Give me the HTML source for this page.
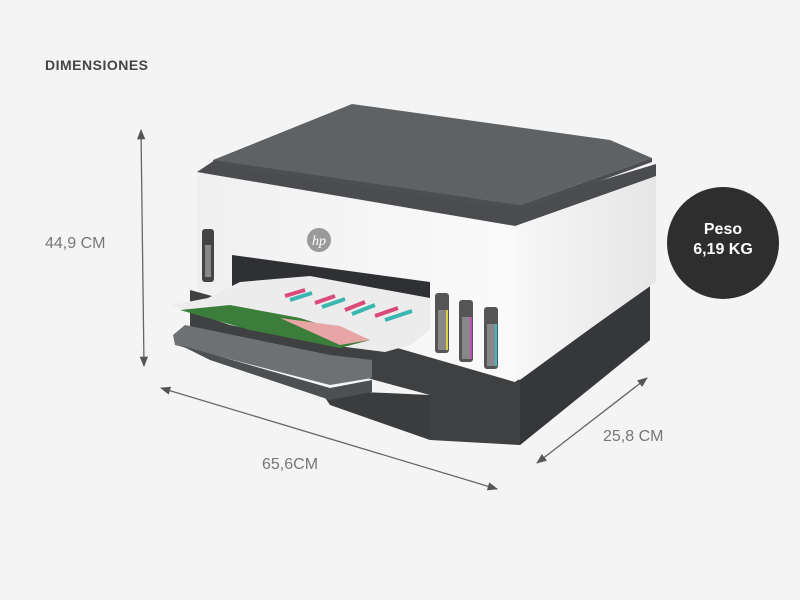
<!DOCTYPE html>
<html><head><meta charset="utf-8"><style>
html,body{margin:0;padding:0;width:800px;height:600px;background:#f4f4f4;overflow:hidden}
svg{display:block}
</style></head><body>
<svg width="800" height="600" viewBox="0 0 800 600" xmlns="http://www.w3.org/2000/svg">
<defs>
<marker id="ah" viewBox="0 0 10 10" refX="9" refY="5" markerWidth="8" markerHeight="8" orient="auto-start-reverse"><path d="M0,1 L10,5 L0,9 z" fill="#555"/></marker>
<linearGradient id="wf" x1="0" y1="0" x2="1" y2="0"><stop offset="0" stop-color="#f0f0f0"/><stop offset="1" stop-color="#fafafa"/></linearGradient>
<linearGradient id="wr" x1="0" y1="0" x2="1" y2="0"><stop offset="0" stop-color="#f7f7f7"/><stop offset="1" stop-color="#e6e6e6"/></linearGradient>
</defs>
<text x="45" y="70" font-family="Liberation Sans, sans-serif" font-weight="bold" font-size="14" fill="#444" letter-spacing="0.5">DIMENSIONES</text>
<text x="45" y="248" font-family="Liberation Sans, sans-serif" font-size="16" fill="#777">44,9 CM</text>
<text x="262" y="469" font-family="Liberation Sans, sans-serif" font-size="16" fill="#777">65,6CM</text>
<text x="603" y="441" font-family="Liberation Sans, sans-serif" font-size="16" fill="#777">25,8 CM</text>
<line x1="141" y1="130" x2="144" y2="366" stroke="#666" stroke-width="1.3" marker-start="url(#ah)" marker-end="url(#ah)"/>
<line x1="161" y1="388" x2="497" y2="489" stroke="#666" stroke-width="1.3" marker-start="url(#ah)" marker-end="url(#ah)"/>
<line x1="537" y1="463" x2="647" y2="378" stroke="#666" stroke-width="1.3" marker-start="url(#ah)" marker-end="url(#ah)"/>
<circle cx="723" cy="243" r="56" fill="#2e2e2e"/>
<text x="723" y="234" text-anchor="middle" font-family="Liberation Sans, sans-serif" font-weight="bold" font-size="16" fill="#fff">Peso</text>
<text x="723" y="254" text-anchor="middle" font-family="Liberation Sans, sans-serif" font-weight="bold" font-size="16" fill="#fff">6,19 KG</text>
<!-- base -->
<polygon points="190,290 520,380 650,285 650,340 520,445 430,440 430,395 190,330" fill="#3e4042"/>
<polygon points="520,380 650,285 650,340 520,445" fill="#35373a"/>
<polygon points="320,390 430,395 430,440 330,405" fill="#3a3c3e"/>
<!-- white body -->
<polygon points="197,172 515,224 515,382 197,290" fill="url(#wf)"/>
<polygon points="515,224 656,174 656,282 515,382" fill="url(#wr)"/>
<!-- dark panel band -->
<polygon points="197,172 215,160 520,205 656,164 656,176 515,226" fill="#4a4c4f"/>
<!-- lid -->
<polygon points="213,160 352,104 610,140 652,158 520,205" fill="#5f6265"/>
<polygon points="213,160 520,205 652,158 652,162 520,210 213,165" fill="#4c4e51"/>
<!-- front opening -->
<polygon points="232,255 430,282 430,330 232,300" fill="#2e3033"/>
<!-- left tank -->
<rect x="202" y="229" width="12" height="53" rx="3" fill="#444"/>
<rect x="205" y="245" width="6" height="32" fill="#888"/>
<!-- hp logo -->
<circle cx="319" cy="240" r="12" fill="#9a9a9a"/>
<text x="319" y="245" text-anchor="middle" font-family="Liberation Serif, serif" font-style="italic" font-size="14" fill="#fff">hp</text>
<!-- tanks right -->
<g>
<rect x="435" y="293" width="14" height="60" rx="3" fill="#555"/><rect x="438" y="310" width="8" height="40" fill="#888"/><rect x="446" y="310" width="2" height="40" fill="#d9d24a"/>
<rect x="459" y="300" width="14" height="62" rx="3" fill="#555"/><rect x="462" y="317" width="8" height="42" fill="#888"/><rect x="470" y="317" width="2" height="42" fill="#c24bb5"/>
<rect x="484" y="307" width="14" height="62" rx="3" fill="#555"/><rect x="487" y="324" width="8" height="42" fill="#888"/><rect x="495" y="324" width="2" height="42" fill="#3fb6c9"/>
</g>
<!-- tray -->
<polygon points="173,335 185,325 330,355 372,360 372,378 330,385 175,345" fill="#6e7174"/>
<polygon points="180,345 330,388 372,380 372,392 330,400 210,360" fill="#4d5053"/>
<!-- paper -->
<polygon points="208,298 240,282 310,276 430,298 430,330 410,345 385,352 330,345 230,325 172,305" fill="#ececec"/>
<polygon points="180,310 230,305 300,318 370,340 340,348 250,330" fill="#3b7d3a"/>
<polygon points="280,318 340,326 370,340 340,345" fill="#e8a5a5"/>
<g stroke-width="4">
<line x1="285" y1="296" x2="305" y2="290" stroke="#d94a7a"/><line x1="290" y1="300" x2="312" y2="293" stroke="#3bb6b0"/>
<line x1="315" y1="303" x2="335" y2="296" stroke="#d94a7a"/><line x1="322" y1="307" x2="345" y2="299" stroke="#3bb6b0"/>
<line x1="345" y1="310" x2="365" y2="302" stroke="#d94a7a"/><line x1="352" y1="314" x2="375" y2="305" stroke="#3bb6b0"/>
<line x1="375" y1="316" x2="398" y2="308" stroke="#d94a7a"/><line x1="385" y1="320" x2="412" y2="311" stroke="#3bb6b0"/>
</g>
</svg>
</body></html>
